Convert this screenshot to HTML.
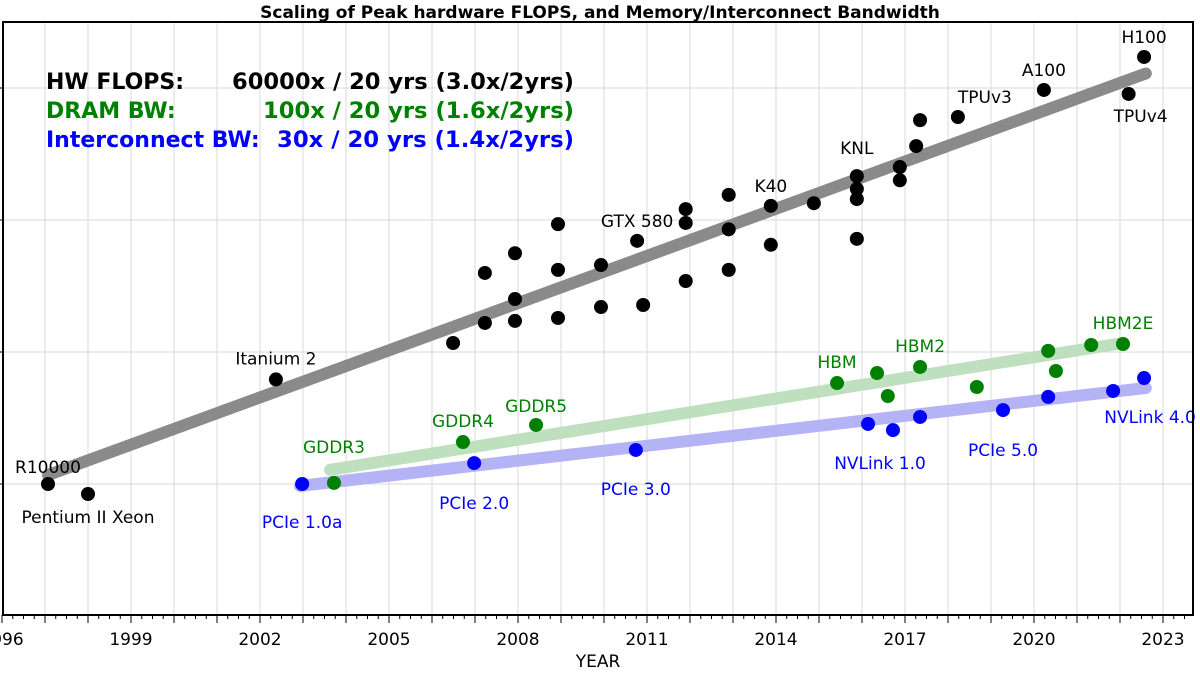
<!DOCTYPE html>
<html><head><meta charset="utf-8">
<style>
html,body{margin:0;padding:0;background:#fff;}
svg{display:block;font-family:"DejaVu Sans","Liberation Sans",sans-serif;}
</style></head>
<body>
<svg id="chart" width="1200" height="675" viewBox="0 0 1200 675" xmlns="http://www.w3.org/2000/svg">
<text x="600" y="18" text-anchor="middle" font-size="17" font-weight="bold">Scaling of Peak hardware FLOPS, and Memory/Interconnect Bandwidth</text>
<g id="grid"></g>
<g id="trends"></g>
<g id="marks"></g>
<g id="labels"></g>
<g id="axes"></g>
<g font-size="22" font-weight="bold">
<text x="46" y="89" fill="#000">HW FLOPS:</text>
<text x="232" y="89" fill="#000" textLength="342" lengthAdjust="spacingAndGlyphs">60000x / 20 yrs (3.0x/2yrs)</text>
<text x="46" y="118" fill="#008000">DRAM BW:</text>
<text x="263" y="118" fill="#008000" textLength="311" lengthAdjust="spacingAndGlyphs">100x / 20 yrs (1.6x/2yrs)</text>
<text x="46" y="147" fill="#0000ff">Interconnect BW:</text>
<text x="277" y="147" fill="#0000ff" textLength="297" lengthAdjust="spacingAndGlyphs">30x / 20 yrs (1.4x/2yrs)</text>
</g>
</svg>
<script>
const flopsYears=[1997.07,1998.0,2002.37,2006.49,2007.23,2007.23,2007.93,2007.93,2007.93,2008.93,2008.93,2008.93,2009.93,2009.93,2010.77,2010.91,2011.9,2011.9,2011.9,2012.9,2012.9,2012.9,2013.88,2013.88,2014.88,2015.88,2015.88,2015.88,2015.88,2016.88,2016.88,2017.26,2017.35,2018.23,2020.23,2022.2,2022.56];
const flopsValues=[1.0,0.84,6.2,11.7,39.7,16.6,56,25.2,17.2,93,41.9,18.1,45.6,21.9,69.5,22.7,121,95,34.5,155,85,41.9,128,64.9,134,215,172,144,72,252,200,363,571,603,966,901,1718];
const flopsNames={0:'R10000',1:'Pentium II Xeon',2:'Itanium 2',14:'GTX 580',22:'K40',25:'KNL',33:'TPUv3',34:'A100',35:'TPUv4',36:'H100'};
const dramYears=[2003.72,2006.72,2008.42,2015.42,2016.35,2016.6,2017.35,2018.67,2020.33,2020.51,2021.33,2022.07];
const dramValues=[1.02,2.08,2.8,5.82,6.93,4.64,7.7,5.43,10.2,7.18,11.3,11.5];
const dramNames={0:'GDDR3',1:'GDDR4',2:'GDDR5',3:'HBM',6:'HBM2',11:'HBM2E'};
const icYears=[2002.98,2006.98,2010.74,2016.14,2016.72,2017.35,2019.28,2020.33,2021.84,2022.56];
const icValues=[1.0,1.44,1.81,2.85,2.56,3.22,3.63,4.57,5.07,6.35];
const icNames={0:'PCIe 1.0a',1:'PCIe 2.0',2:'PCIe 3.0',3:'NVLink 1.0',6:'PCIe 5.0',9:'NVLink 4.0'};
const flopsTrendYears=[1997.07,2022.6];
const flopsTrendValues=[1.17,1288];
const dramTrendYears=[2003.63,2022.07];
const dramTrendValues=[1.28,11.7];
const icTrendYears=[2002.93,2022.6];
const icTrendValues=[0.967,5.34];
const xTickLabels=[1996,1999,2002,2005,2008,2011,2014,2017,2020,2023];
const yDecades=[-1,0,1,2,3];

const NS='http://www.w3.org/2000/svg';
const L=3,R=1193,T=22,B=615;
const xS=y=>2+(y-1996)*43;
const yS=v=>484-132*Math.log10(v);
function mk(tag,attrs,parent){const e=document.createElementNS(NS,tag);for(const k in attrs)e.setAttribute(k,attrs[k]);parent.appendChild(e);return e;}
const grid=document.getElementById('grid'),trends=document.getElementById('trends'),marks=document.getElementById('marks'),labels=document.getElementById('labels'),axes=document.getElementById('axes');

for(let yr=1997;yr<=2024;yr++){const x=xS(yr);if(x>=R)break;
 const g=mk('line',{x1:x,x2:x,y1:T,y2:B,stroke:'#d8d8d8','stroke-width':1},grid);
 }
yDecades.forEach(d=>{const y=484-132*d;if(y<=T||y>=B)return;
 const g=mk('line',{x1:L,x2:R,y1:y,y2:y,stroke:'#d8d8d8','stroke-width':1},grid);
 
 const t=mk('line',{x1:L-6,x2:L,y1:y,y2:y,stroke:'#000','stroke-width':1},axes);
 });

function trend(ys,vs,color,name){const l=mk('line',{x1:xS(ys[0]),y1:yS(vs[0]),x2:xS(ys[1]),y2:yS(vs[1]),stroke:color,'stroke-width':12,'stroke-linecap':'round'},trends);
 }
trend(flopsTrendYears,flopsTrendValues,'#8a8a8a','flops-trend-line');
trend(dramTrendYears,dramTrendValues,'#bfe0bf','dram-trend-line');
trend(icTrendYears,icTrendValues,'#b3b3f5','interconnect-trend-line');

const flopsOff={0:[0,-17],1:[0,23],2:[0,-21],14:[0,-20],22:[0,-20],25:[0,-28],33:[27,-20],34:[0,-20],35:[12,22],36:[0,-20]};
const dramOff={0:[0,-36],1:[0,-21],2:[0,-19],3:[0,-21],6:[0,-21],11:[0,-21]};
const icOff={0:[0,38],1:[0,40],2:[0,39],3:[12,39],6:[0,40],9:[6,39]};
function series(ys,vs,names,offs,color,name){
 ys.forEach((yr,i)=>{const c=mk('circle',{cx:xS(yr),cy:yS(vs[i]),r:7,fill:color},marks);
  
  if(names[i]){const o=offs[i];const t=mk('text',{x:xS(yr)+o[0],y:yS(vs[i])+o[1]+6,'text-anchor':'middle','font-size':17,fill:color},labels);
   t.textContent=names[i];}});}
series(flopsYears,flopsValues,flopsNames,flopsOff,'#000','flops');
series(dramYears,dramValues,dramNames,dramOff,'#008000','dram');
series(icYears,icValues,icNames,icOff,'#0000ff','interconnect');

const frame=mk('rect',{x:L,y:T,width:R-L,height:B-T,fill:'none',stroke:'#000','stroke-width':2},axes);

for(let q=1996*4;q<=2024*4;q++){const yr=q/4;const x=xS(yr);if(x<L-1||x>R)continue;const major=q%4===0;
 const t=mk('line',{x1:x,x2:x,y1:B,y2:B+(major?8:4),stroke:'#000','stroke-width':1},axes);
 }
xTickLabels.forEach(yr=>{const t=mk('text',{x:xS(yr),y:645,'text-anchor':'middle','font-size':17,fill:'#000'},axes);
 t.textContent=String(yr);});
const xt=mk('text',{x:598,y:667,'text-anchor':'middle','font-size':17,fill:'#000'},axes);
xt.textContent='YEAR';


</script>
</body></html>
